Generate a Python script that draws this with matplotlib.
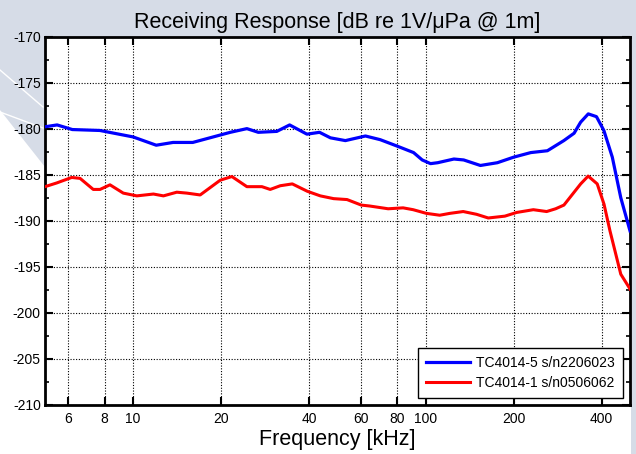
import matplotlib
matplotlib.use("Agg")
import matplotlib.pyplot as plt
from matplotlib.patches import Polygon

# ---- data ----
blue_f = [5.0, 5.5, 6.2, 7.7, 10, 12, 13.7, 16, 18.8, 21.5, 24.5, 26.8, 31, 34.3,
          39.3, 43.4, 47.3, 53.2, 62.3, 70, 80, 91, 97.4, 104, 110, 125, 135, 154,
          176, 200, 229, 261, 297, 322, 339, 360, 384, 407, 435, 465, 500]
blue_v = [-179.8, -179.6, -180.1, -180.2, -180.9, -181.8, -181.5, -181.5, -180.9,
          -180.4, -180.0, -180.4, -180.3, -179.6, -180.6, -180.4, -181.0, -181.3,
          -180.8, -181.2, -181.9, -182.6, -183.4, -183.8, -183.7, -183.3, -183.4,
          -184.0, -183.7, -183.1, -182.6, -182.4, -181.3, -180.5, -179.3, -178.4,
          -178.7, -180.2, -183.1, -187.5, -191.1]

red_f = [5.0, 5.48, 6.17, 6.59, 7.31, 7.71, 8.34, 9.26, 10.3, 11.74, 12.7, 14.11,
         15.27, 16.96, 19.86, 21.77, 24.5, 27.58, 29.44, 31.86, 35.03, 39.42, 43.67,
         48.5, 53.9, 60.3, 64.4, 74.5, 83.8, 90.7, 100.7, 111.8, 121.0, 134.5, 149.4,
         163.8, 186.7, 204.8, 233.6, 259.4, 278.4, 297.2, 339.1, 359.7, 386.3, 407.5,
         427.1, 465, 500]
red_v = [-186.3, -185.9, -185.3, -185.4, -186.6, -186.6, -186.1, -187.0, -187.3,
         -187.1, -187.3, -186.9, -187.0, -187.2, -185.6, -185.2, -186.3, -186.3,
         -186.6, -186.2, -186.0, -186.8, -187.3, -187.6, -187.7, -188.3, -188.4,
         -188.7, -188.6, -188.8, -189.2, -189.4, -189.2, -189.0, -189.3, -189.7,
         -189.5, -189.1, -188.8, -189.0, -188.7, -188.3, -186.0, -185.15, -186.0,
         -188.2, -191.1, -195.8, -197.4]

labels = ["TC4014-5 s/n2206023", "TC4014-1 s/n0506062"]
x_ticks = [6, 8, 10, 20, 40, 60, 80, 100, 200, 400]
x_ticklabels = ["6", "8", "10", "20", "40", "60", "80", "100", "200", "400"]
y_ticks = list(range(-210, -169, 5))

plt.rcParams['font.family'] = ['Liberation Sans', 'DejaVu Sans']
plt.rcParams['axes.unicode_minus'] = False

W, H = 636, 454
BG = '#d6dce7'
fig = plt.figure(figsize=(W / 100, H / 100), dpi=100, facecolor=BG)

def P(pts):
    return [(x / W, 1 - y / H) for x, y in pts]

# decorative slide background
fig.patches.append(Polygon(P([(0, 110), (45, 167), (45, 454), (0, 454)]),
                           closed=True, facecolor='white', edgecolor='none',
                           transform=fig.transFigure, zorder=-5))
fig.patches.append(Polygon(P([(45, 400), (631, 400), (631, 454), (45, 454)]),
                           closed=True, facecolor='white', edgecolor='none',
                           transform=fig.transFigure, zorder=-5))
fig.lines.append(plt.Line2D([0, 43 / W], [1 - 70 / H, 1 - 107 / H], color='white',
                            lw=1.0, transform=fig.transFigure, zorder=-4))
fig.lines.append(plt.Line2D([0, 43 / W], [1 - 112 / H, 1 - 128 / H], color='white',
                            lw=1.0, transform=fig.transFigure, zorder=-4))

ax = fig.add_axes([45 / W, 1 - 405 / H, (630 - 45) / W, (405 - 36.5) / H])
ax.set_zorder(5)
ax.set_facecolor('white')

ax.plot(blue_f, blue_v, color='#0000ff', lw=2.3, label=labels[0], zorder=3)
ax.plot(red_f, red_v, color='#ff0000', lw=2.2, label=labels[1], zorder=3)

ax.set_xscale('log')
ax.set_xlim(5, 500)
ax.set_ylim(-210, -170)
ax.set_xticks(x_ticks)
ax.set_xticklabels(x_ticklabels)
ax.xaxis.set_minor_locator(matplotlib.ticker.NullLocator())
ax.set_yticks(y_ticks)
ax.yaxis.set_minor_locator(matplotlib.ticker.MultipleLocator(2.5))

ax.tick_params(axis='both', which='both', direction='in', top=True, right=True,
               labelsize=10, colors='black')
ax.tick_params(axis='x', which='major', length=6, width=1.5, pad=5)
ax.tick_params(axis='y', which='major', length=6, width=1.5, pad=3)
ax.tick_params(axis='y', which='minor', length=3, width=1.2)

for s in ax.spines.values():
    s.set_linewidth(2.0)
    s.set_color('black')

ax.grid(True, which='major', color='black', linestyle=(0, (1, 1.5)), linewidth=0.8)

ax.set_title("Receiving Response [dB re 1V/\u03bcPa @ 1m]", fontsize=15.5, pad=6)
ax.set_xlabel("Frequency [kHz]", fontsize=15.5, labelpad=2)

leg = ax.legend(loc='lower right', bbox_to_anchor=(0.988, 0.019), borderaxespad=0,
                fontsize=10, frameon=True, fancybox=False, framealpha=1,
                edgecolor='black', handlelength=3.2, handletextpad=0.4,
                borderpad=0.6, labelspacing=0.4)
leg.get_frame().set_linewidth(1.0)

fig.savefig('out.png', dpi=100, facecolor=fig.get_facecolor())
